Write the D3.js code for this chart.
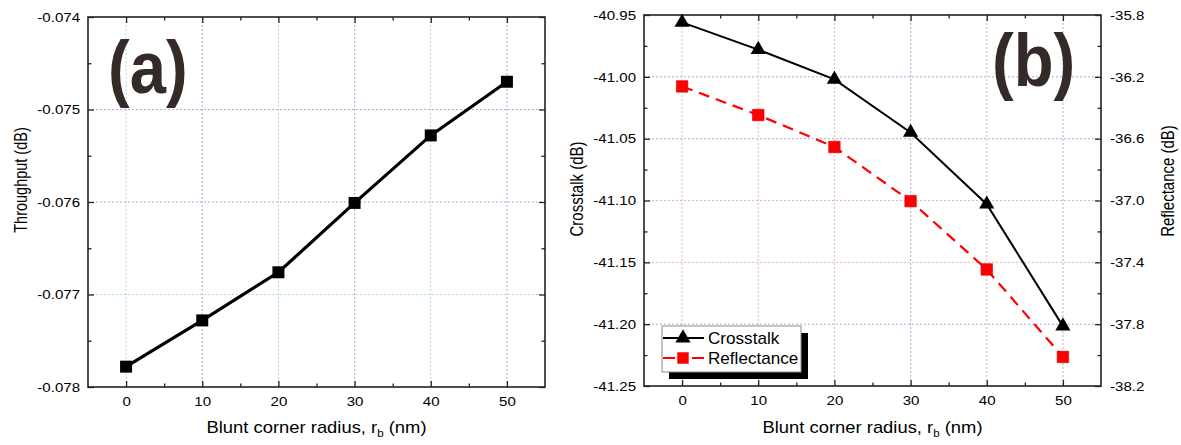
<!DOCTYPE html>
<html>
<head>
<meta charset="utf-8">
<script src="https://cdn.jsdelivr.net/npm/d3@7"></script>
<style>
  body { margin: 0; background: #fff; }
  text { font-family: "Liberation Sans", Arial, sans-serif; fill: #000; }
</style>
</head>
<body>
<div id="main"></div>
<script>
// ---- data ----
var radius = [0, 10, 20, 30, 40, 50];
var throughput = [-0.07778, -0.07728, -0.07676, -0.07601, -0.07528, -0.07470];
var crosstalk = [-40.956, -40.978, -41.002, -41.045, -41.103, -41.2016];
var reflectance = [-36.262, -36.447, -36.654, -37.004, -37.446, -38.012];

var xTicks = [0, 10, 20, 30, 40, 50];
var throughputTicks = [-0.078, -0.077, -0.076, -0.075, -0.074];
var crosstalkTicks = [-41.25, -41.20, -41.15, -41.10, -41.05, -41.00, -40.95];
var reflectanceTicks = [-38.2, -37.8, -37.4, -37.0, -36.6, -36.2, -35.8];
var seriesNames = ["Crosstalk", "Reflectance"];
var panelLabels = ["(a)", "(b)"];

var ctx = {
    w: 1181, h: 445,
    a: {l: 88, r: 545, t: 17, b: 387},
    b: {l: 644, r: 1101, t: 15, b: 386},
    tickSX: 1.16, titleSX: 1.15, yTitleSX: 1.28, legSX: 1.07
};

var svg = d3.select("#main").append("svg")
    .attr("width", ctx.w).attr("height", ctx.h);

// stretch text horizontally (the picture's lettering is wide)
function stretch(sel, sx) {
    sel.each(function(){
        var t = d3.select(this);
        var x = +t.attr("x") || 0;
        t.attr("x", x / sx).attr("transform", "scale(" + sx + ",1)");
    });
}
function mids(arr) {
    return d3.pairs(arr).map(function(p){ return (p[0] + p[1]) / 2; });
}

function frame(box, xScale, yL, yR, yTicks, yRTicks, fmtL, fmtR, gridX, gridY) {
    var g = svg.append("g");
    // grid lines
    xTicks.forEach(function(v, i){
        g.append("line")
            .attr("x1", xScale(v)).attr("x2", xScale(v))
            .attr("y1", box.t).attr("y2", box.b)
            .attr("stroke", gridX[i]).attr("stroke-width", 1)
            .attr("stroke-dasharray", "2,2");
    });
    yTicks.forEach(function(v, i){
        var y = yL(v);
        if (Math.abs(y - box.t) < 1 || Math.abs(y - box.b) < 1) return;
        g.append("line")
            .attr("x1", box.l).attr("x2", box.r)
            .attr("y1", y).attr("y2", y)
            .attr("stroke", gridY[i]).attr("stroke-width", 1)
            .attr("stroke-dasharray", "2,2");
    });

    // bottom axis with labels
    var gb = g.append("g").attr("transform", "translate(0," + box.b + ")")
        .call(d3.axisBottom(xScale).tickValues(xTicks).tickSize(-6).tickSizeOuter(0)
              .tickPadding(10).tickFormat(function(d){ return d; }));
    gb.append("g").call(d3.axisBottom(xScale).tickValues(mids(xTicks)).tickSize(-3.5)
              .tickSizeOuter(0).tickFormat(""));
    // top axis
    var gt = g.append("g").attr("transform", "translate(0," + box.t + ")")
        .call(d3.axisTop(xScale).tickValues(xTicks).tickSize(-6).tickSizeOuter(0).tickFormat(""));
    gt.append("g").call(d3.axisTop(xScale).tickValues(mids(xTicks)).tickSize(-3.5)
              .tickSizeOuter(0).tickFormat(""));
    // left axis
    var gl = g.append("g").attr("transform", "translate(" + box.l + ",0)")
        .call(d3.axisLeft(yL).tickValues(yTicks).tickSize(-6).tickSizeOuter(0)
              .tickPadding(8).tickFormat(fmtL));
    gl.append("g").call(d3.axisLeft(yL).tickValues(mids(yTicks)).tickSize(-3.5)
              .tickSizeOuter(0).tickFormat(""));
    // right axis
    var gr = g.append("g").attr("transform", "translate(" + box.r + ",0)")
        .call(d3.axisRight(yR).tickValues(yRTicks).tickSize(-6).tickSizeOuter(0)
              .tickPadding(9).tickFormat(fmtR || ""));
    gr.append("g").call(d3.axisRight(yR).tickValues(mids(yRTicks)).tickSize(-3.5)
              .tickSizeOuter(0).tickFormat(""));

    g.selectAll(".domain").remove();
    g.selectAll(".tick line").attr("stroke", "#222").attr("stroke-width", 1.3);
    g.selectAll(".tick text").attr("font-size", 13).attr("fill", "#000")
        .attr("font-family", "'Liberation Sans', Arial, sans-serif");
    stretch(g.selectAll(".tick text"), ctx.tickSX);

    g.append("rect")
        .attr("x", box.l).attr("y", box.t)
        .attr("width", box.r - box.l).attr("height", box.b - box.t)
        .attr("fill", "none").attr("stroke", "#222").attr("stroke-width", 1.6);
    return g;
}

function xTitleAt(cx) {
    var t = svg.append("g").attr("transform", "translate(" + cx + ",433)")
        .append("text").attr("text-anchor", "middle").attr("font-size", 16)
        .attr("transform", "scale(" + ctx.titleSX + ",1)");
    t.append("tspan").text("Blunt corner radius, r");
    t.append("tspan").attr("font-size", 10).attr("dy", 4).text("b");
    t.append("tspan").attr("dy", -4).text(" (nm)");
}
function yTitleAt(cx, cy, label, size) {
    svg.append("text")
        .attr("transform", "translate(" + cx + "," + cy + ") rotate(-90) scale(1," + ctx.yTitleSX + ")")
        .attr("text-anchor", "middle").attr("dy", "0.35em")
        .attr("font-size", size).text(label);
}
function panelLabel(x, y, label) {
    svg.append("text")
        .attr("transform", "translate(" + x + "," + y + ") scale(0.88,1)")
        .attr("font-size", 74).attr("font-weight", "bold")
        .style("fill", "#342b29")
        .text(label);
}

// ---------------- panel (a) ----------------
var xA = d3.scaleLinear().domain([-5, 55]).range([ctx.a.l, ctx.a.r]);
var yA = d3.scaleLinear().domain([-0.078, -0.074]).range([ctx.a.b, ctx.a.t]);
var gridGreen = "#a6dcd0", gridBlue = "#a9acd6", gridPink = "#e6b4b4";

frame(ctx.a, xA, yA, yA, throughputTicks, throughputTicks,
      function(d){ return d.toFixed(3); }, null,
      [gridGreen, gridBlue, gridGreen, gridBlue, gridGreen, gridBlue],
      [null, gridGreen, gridBlue, gridBlue, null]);

svg.append("path")
    .datum(radius.map(function(r, i){ return [r, throughput[i]]; }))
    .attr("fill", "none").attr("stroke", "#000").attr("stroke-width", 3.2)
    .attr("d", d3.line().x(function(d){ return xA(d[0]); }).y(function(d){ return yA(d[1]); }));

svg.selectAll("path.sqA")
    .data(radius.map(function(r, i){ return [r, throughput[i]]; }))
    .enter().append("path").attr("class", "sqA")
    .attr("d", d3.symbol().type(d3.symbolSquare).size(144)())
    .attr("transform", function(d){ return "translate(" + xA(d[0]) + "," + yA(d[1]) + ")"; })
    .attr("fill", "#000");

panelLabel(108, 93, panelLabels[0]);
xTitleAt((ctx.a.l + ctx.a.r) / 2);
yTitleAt(20, 180, "Throughput (dB)", 14.5);

// ---------------- panel (b) ----------------
var xB = d3.scaleLinear().domain([-5, 55]).range([ctx.b.l, ctx.b.r]);
var yB = d3.scaleLinear().domain([-41.25, -40.95]).range([ctx.b.b, ctx.b.t]);
var yR = d3.scaleLinear().domain([-38.2, -35.8]).range([ctx.b.b, ctx.b.t]);

frame(ctx.b, xB, yB, yR, crosstalkTicks, reflectanceTicks,
      function(d){ return d.toFixed(2); }, function(d){ return d.toFixed(1); },
      [gridPink, gridPink, gridPink, gridBlue, gridPink, gridBlue],
      [null, gridBlue, gridPink, gridPink, gridBlue, gridBlue, null]);

var ptsC = radius.map(function(r, i){ return [xB(r), yB(crosstalk[i])]; });
var ptsR = radius.map(function(r, i){ return [xB(r), yR(reflectance[i])]; });

svg.append("path").datum(ptsR)
    .attr("fill", "none").attr("stroke", "#ff0000").attr("stroke-width", 2.2)
    .attr("stroke-dasharray", "11,7").attr("d", d3.line());
svg.append("path").datum(ptsC)
    .attr("fill", "none").attr("stroke", "#000").attr("stroke-width", 2)
    .attr("d", d3.line());

var tri = d3.symbol().type(d3.symbolTriangle).size(100)();
var sq = d3.symbol().type(d3.symbolSquare).size(132)();
svg.selectAll("path.sqB").data(ptsR).enter().append("path").attr("class", "sqB")
    .attr("d", sq).attr("fill", "#ff0000").attr("stroke", "#d40000").attr("stroke-width", 0.6)
    .attr("transform", function(d){ return "translate(" + d[0] + "," + d[1] + ")"; });
svg.selectAll("path.triB").data(ptsC).enter().append("path").attr("class", "triB")
    .attr("d", tri).attr("fill", "#000")
    .attr("transform", function(d){ return "translate(" + d[0] + "," + d[1] + ")"; });

panelLabel(992, 86, panelLabels[1]);
xTitleAt((ctx.b.l + ctx.b.r) / 2);
yTitleAt(576, 189, "Crosstalk (dB)", 15);
yTitleAt(1167, 181, "Reflectance (dB)", 15);

// legend
var leg = svg.append("g").attr("transform", "translate(662,326)");
leg.append("rect").attr("x", 7).attr("y", 7).attr("width", 139).attr("height", 46).attr("fill", "#000");
leg.append("rect").attr("x", 0).attr("y", 0).attr("width", 139).attr("height", 46)
    .attr("fill", "#fff").attr("stroke", "#8a8a8a").attr("stroke-width", 1);
seriesNames.forEach(function(name, i){
    var y = 12 + i * 20;
    leg.append("line").attr("x1", 1).attr("x2", 42).attr("y1", y).attr("y2", y)
        .attr("stroke", i ? "#ff0000" : "#000").attr("stroke-width", 2)
        .attr("stroke-dasharray", i ? "12,17" : null);
    leg.append("path").attr("d", i ? sq : tri)
        .attr("fill", i ? "#ff0000" : "#000")
        .attr("transform", "translate(21," + y + ")");
    leg.append("text").attr("x", 46).attr("y", y + 6).attr("font-size", 16).text(name)
        .call(stretch, ctx.legSX);
});
</script>
</body>
</html>
